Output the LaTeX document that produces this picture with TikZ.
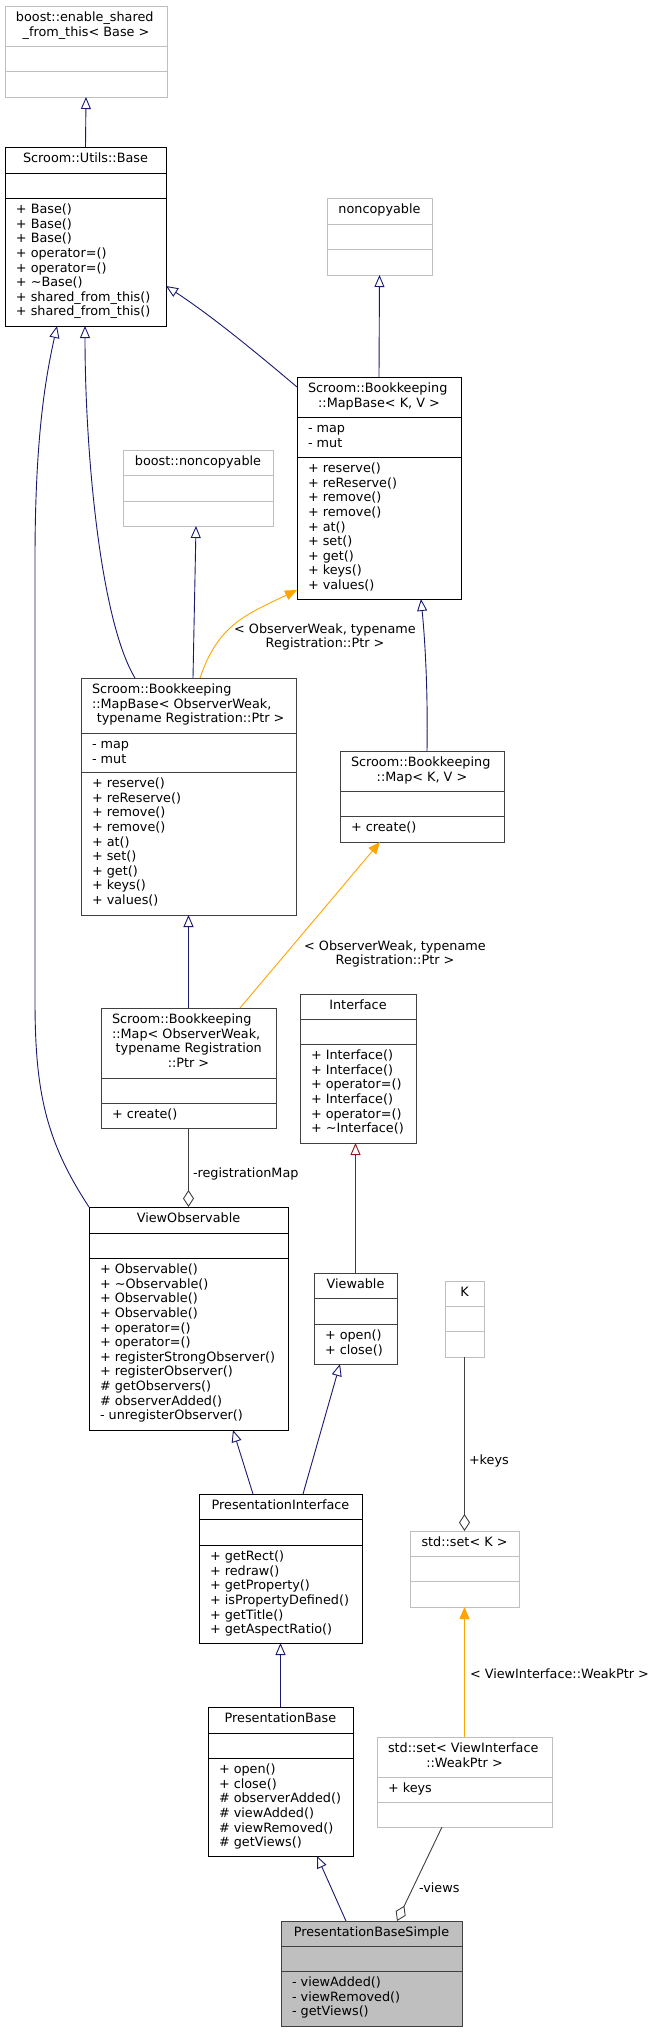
\documentclass[tikz,border=0pt]{standalone}
\usepackage{fontspec}
\setmainfont{DejaVu Sans}
\usetikzlibrary{arrows.meta}
\definecolor{navy}{HTML}{191970}
\definecolor{orng}{HTML}{FFA500}
\definecolor{fred}{HTML}{8B1A1A}
\definecolor{dgray}{HTML}{404040}
\definecolor{lgray}{HTML}{BFBFBF}
\definecolor{pbsfill}{HTML}{BFBFBF}
\newcommand\fs{\rule{0pt}{11pt}}
\newcommand\umlfont{\fontsize{12.8pt}{14.6pt}\selectfont}
\tikzset{
  txt/.style={inner sep=0pt, outer sep=0pt, font=\umlfont, align=left, text=black},
  lbl/.style={inner sep=0pt, outer sep=0pt, font=\umlfont, align=center, text=black},
  inh/.style={draw=navy, line width=0.9pt, -{Triangle[open, length=12pt, width=10pt]}},
  inhred/.style={draw=fred, line width=0.9pt, -{Triangle[open, length=12pt, width=10pt]}},
  tmpl/.style={draw=orng, line width=0.9pt, -{Triangle[length=12pt, width=10pt, fill=orng]}},
  agg/.style={draw=dgray, line width=0.9pt, -{Diamond[open, length=17pt, width=11pt]}},
}
% name, border colour, fill colour, x1, y1, x2, y2, separator 1, separator 2
\newcommand\umlbox[9]{%
  \pgfmathsetmacro\bw{#6-#4}%
  \pgfmathsetmacro\bh{#7-#5}%
  \node[draw=#2, fill=#3, line width=1pt, inner sep=0pt, outer sep=0pt,
        minimum width=\bw pt, minimum height=\bh pt, anchor=north west] (#1) at (#4,#5) {};
  \draw[#2, line width=1pt] (#4,#8) -- (#6,#8) (#4,#9) -- (#6,#9);
}
\newcommand\ltext[4]{\node[txt, anchor=north west] (#1) at (#2,#3) {\fs#4};}
\newcommand\ctext[4]{\node[txt, align=center, anchor=north] (#1) at (#2,#3) {\fs#4};}

\begin{document}
\begin{tikzpicture}[x=1pt, y=-1pt]
\useasboundingbox (0,0) rectangle (657,2032);
\fill[white] (0,0) rectangle (657,2032);

% boost::enable_shared_from_this
\umlbox{A}{lgray}{white}{5}{6}{167}{97}{46}{71}
\ltext{At1}{16}{10.7}{boost::enable\_shared}
\ctext{At2}{86}{25.3}{\_from\_this< Base >}

% Scroom::Utils::Base
\umlbox{B}{black}{white}{5}{147}{166}{326}{173}{198}
\ctext{Bt}{85.5}{151.7}{Scroom::Utils::Base}
\ltext{Bm}{16}{202.7}{+ Base()\\+ Base()\\+ Base()\\+ operator=()\\+ operator=()\\+ \textasciitilde Base()\\+ shared\_from\_this()\\+ shared\_from\_this()}

% noncopyable
\umlbox{C}{lgray}{white}{327}{198}{432}{275}{224}{249}
\ctext{Ct}{379.5}{202.7}{noncopyable}

% MapBase< K, V >
\umlbox{D}{black}{white}{297}{377}{461}{599}{417}{457}
\ltext{Dt1}{308}{381.7}{Scroom::Bookkeeping}
\ctext{Dt2}{379}{396.3}{::MapBase< K, V >}
\ltext{Da}{308}{421.7}{- map\\- mut}
\ltext{Dm}{308}{461.7}{+ reserve()\\+ reReserve()\\+ remove()\\+ remove()\\+ at()\\+ set()\\+ get()\\+ keys()\\+ values()}

% boost::noncopyable
\umlbox{E}{lgray}{white}{123}{450}{273}{526}{475}{501}
\ctext{Et}{198}{454.7}{boost::noncopyable}

% MapBase< ObserverWeak, ... >
\umlbox{F}{dgray}{white}{81}{678}{296}{915}{733}{772}
\ltext{Ft1}{92}{682.7}{Scroom::Bookkeeping\\::MapBase< ObserverWeak,}
\ctext{Ft2}{188.5}{711.9}{\ typename Registration::Ptr >}
\ltext{Fa}{92}{737.7}{- map\\- mut}
\ltext{Fm}{92}{776.7}{+ reserve()\\+ reReserve()\\+ remove()\\+ remove()\\+ at()\\+ set()\\+ get()\\+ keys()\\+ values()}

% Map< K, V >
\umlbox{G}{dgray}{white}{340}{751}{504}{842}{791}{816}
\ltext{Gt1}{351}{755.7}{Scroom::Bookkeeping}
\ctext{Gt2}{422}{770.3}{::Map< K, V >}
\ltext{Gm}{351}{820.7}{+ create()}

% Map< ObserverWeak, ... >
\umlbox{H}{dgray}{white}{101}{1008}{276}{1128}{1078}{1103}
\ltext{Ht1}{112}{1012.7}{Scroom::Bookkeeping\\::Map< ObserverWeak,\\\hspace*{3.7pt}typename Registration}
\ctext{Ht2}{188.5}{1056.5}{::Ptr >}
\ltext{Hm}{112}{1107.7}{+ create()}

% Interface
\umlbox{I}{dgray}{white}{300}{994}{416}{1143}{1019}{1044}
\ctext{It}{358}{998.7}{Interface}
\ltext{Im}{311}{1048.7}{+ Interface()\\+ Interface()\\+ operator=()\\+ Interface()\\+ operator=()\\+ \textasciitilde Interface()}

% ViewObservable
\umlbox{J}{black}{white}{89}{1207}{288}{1430}{1233}{1258}
\ctext{Jt}{188.5}{1211.7}{ViewObservable}
\ltext{Jm}{100}{1262.7}{+ Observable()\\+ \textasciitilde Observable()\\+ Observable()\\+ Observable()\\+ operator=()\\+ operator=()\\+ registerStrongObserver()\\+ registerObserver()\\\# getObservers()\\\# observerAdded()\\- unregisterObserver()}

% Viewable
\umlbox{K}{dgray}{white}{314}{1273}{397}{1364}{1298}{1324}
\ctext{Kt}{355.5}{1277.7}{Viewable}
\ltext{Km}{325}{1328.7}{+ open()\\+ close()}

% PresentationInterface
\umlbox{L}{black}{white}{199}{1494}{362}{1643}{1519}{1545}
\ctext{Lt}{280.5}{1498.7}{PresentationInterface}
\ltext{Lm}{210}{1549.7}{+ getRect()\\+ redraw()\\+ getProperty()\\+ isPropertyDefined()\\+ getTitle()\\+ getAspectRatio()}

% K
\umlbox{M}{lgray}{white}{445}{1281}{484}{1357}{1306}{1331}
\ctext{Mt}{464.5}{1285.7}{K}

% std::set< K >
\umlbox{N}{lgray}{white}{410}{1531}{519}{1607}{1556}{1581}
\ctext{Nt}{464.5}{1535.7}{std::set< K >}

% PresentationBase
\umlbox{O}{black}{white}{208}{1707}{353}{1856}{1733}{1758}
\ctext{Ot}{280.5}{1711.7}{PresentationBase}
\ltext{Om}{219}{1762.7}{+ open()\\+ close()\\\# observerAdded()\\\# viewAdded()\\\# viewRemoved()\\\# getViews()}

% std::set< ViewInterface::WeakPtr >
\umlbox{P}{lgray}{white}{377}{1737}{552}{1827}{1777}{1802}
\ltext{Pt1}{388}{1741.7}{std::set< ViewInterface}
\ctext{Pt2}{464.5}{1756.3}{::WeakPtr >}
\ltext{Pa}{388}{1781.7}{+ keys}

% PresentationBaseSimple
\umlbox{Q}{dgray}{pbsfill}{281}{1921}{462}{2026}{1946}{1971}
\ctext{Qt}{371.5}{1925.7}{PresentationBaseSimple}
\ltext{Qm}{292}{1975.7}{- viewAdded()\\- viewRemoved()\\- getViews()}

% ---- connectors ----
\draw[inh] (B.north) -- (A.south);
\draw[inh] (D.north) -- (C.south);
\draw[inh] ([yshift=-10pt]D.north west) .. controls (265,360) and (215,318) .. ([yshift=-49.5pt]B.east);
\draw[inh] ([xshift=4.5pt]F.north) -- ([xshift=-2pt]E.south);
\draw[inh] ([xshift=-53.5pt]F.north) .. controls (100,620) and (85,450) .. ([xshift=-0.5pt]B.south);
\draw[inh] (J.north west) .. controls (45,1140) and (35,1090) .. (35,1000) -- (35,560) .. controls (35,440) and (45,380) .. ([xshift=-28.5pt]B.south);
\draw[tmpl] ([xshift=11.5pt]F.north) .. controls (218,625) and (245,615) .. ([yshift=9pt]D.south west);
\node[lbl] (l1) at (325,637) {< ObserverWeak, typename\\Registration::Ptr >};
\draw[inh] ([xshift=5pt]G.north) .. controls (428,690) and (425,640) .. ([xshift=42pt]D.south);
\draw[inh] (H.north) -- (F.south);
\draw[tmpl] ([xshift=51.5pt]H.north) -- ([xshift=-42pt]G.south);
\node[lbl] (l2) at (395,954) {< ObserverWeak, typename\\Registration::Ptr >};
\draw[agg] (H.south) -- (J.north);
\node[lbl, anchor=west] (l3) at (193,1174) {-registrationMap};
\draw[inhred] (K.north) -- (K.north |- I.south);
\draw[inh] ([xshift=-27.5pt]L.north) -- ([xshift=44.5pt]J.south);
\draw[inh] ([xshift=22.5pt]L.north) -- ([xshift=-15.5pt]K.south);
\draw[inh] (O.north) -- (L.south);
\draw[agg] (M.south) -- (N.north);
\node[lbl, anchor=west] (l4) at (469,1461) {+keys};
\draw[tmpl] (P.north) -- (N.south);
\node[lbl, anchor=west] (l5) at (470,1674) {< ViewInterface::WeakPtr >};
\draw[inh] ([xshift=-25.5pt]Q.north) -- ([xshift=36.5pt]O.south);
\draw[agg] ([xshift=-22.5pt]P.south) -- ([xshift=25.5pt]Q.north);
\node[lbl, anchor=west] (l6) at (419,1888) {-views};
\end{tikzpicture}
\end{document}
